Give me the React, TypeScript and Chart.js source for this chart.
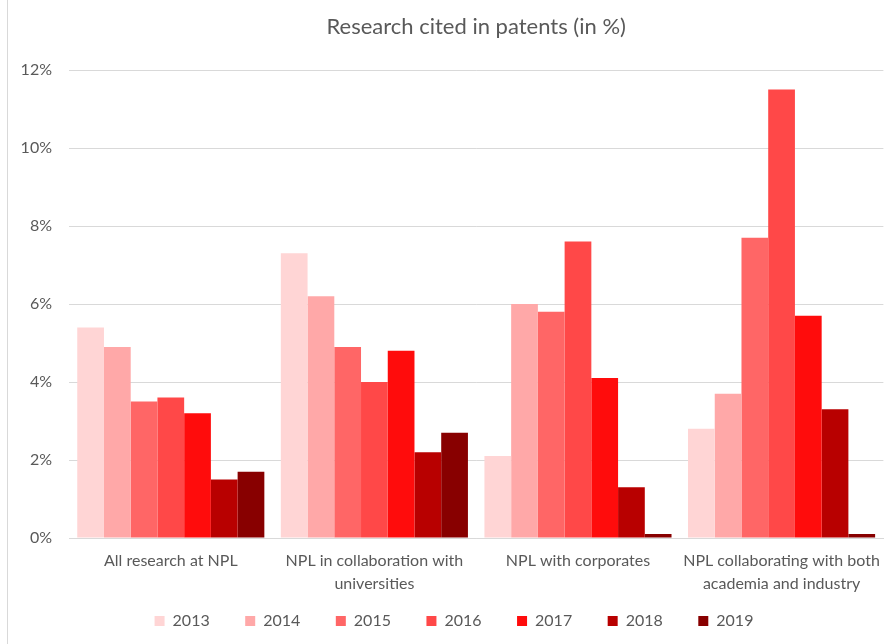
import React, { useEffect, useRef } from "react";
import { Chart, registerables } from "chart.js";

Chart.register(...registerables);

const categories: (string | string[])[] = [
  "All research at NPL",
  ["NPL in collaboration with", "universities"],
  "NPL with corporates",
  ["NPL collaborating with both", "academia and industry"],
];

const years = ["2013", "2014", "2015", "2016", "2017", "2018", "2019"];

const v2013 = [5.4, 7.3, 2.1, 2.8];
const v2014 = [4.9, 6.2, 6.0, 3.7];
const v2015 = [3.5, 4.9, 5.8, 7.7];
const v2016 = [3.6, 4.0, 7.6, 11.5];
const v2017 = [3.2, 4.8, 4.1, 5.7];
const v2018 = [1.5, 2.2, 1.3, 3.3];
const v2019 = [1.7, 2.7, 0.1, 0.1];

const seriesValues = [v2013, v2014, v2015, v2016, v2017, v2018, v2019];
const seriesColors = ["#FFD5D5", "#FFA8A8", "#FF6666", "#FF4848", "#FF0C0C", "#B80000", "#880000"];

const yTicks = [0, 2, 4, 6, 8, 10, 12];

const titleText = "Research cited in patents (in %)";
const TEXT = "#595959";
const GRID = "#D9D9D9";
const FONT = "Lato, 'Open Sans', sans-serif";

// Let the x-axis labels (whose box is shortened to leave room for the legend) draw their second line.
const extendXLabelArea = {
  id: "extendXLabelArea",
  afterLayout(chart: any) {
    const x = chart.scales.x;
    if (x) x.bottom = chart.height;
  },
};

export default function App() {
  const ref = useRef<HTMLCanvasElement | null>(null);

  useEffect(() => {
    if (!ref.current) return;
    const chart = new Chart(ref.current, {
      type: "bar",
      data: {
        labels: categories,
        datasets: years.map((y, i) => ({
          label: y,
          data: seriesValues[i],
          backgroundColor: seriesColors[i],
          borderWidth: 0,
          categoryPercentage: 0.919,
          barPercentage: 1,
        })),
      },
      plugins: [extendXLabelArea],
      options: {
        animation: false,
        responsive: true,
        maintainAspectRatio: false,
        layout: { padding: { left: 18, right: 2, top: 0, bottom: 5 } },
        font: { family: FONT },
        plugins: {
          title: {
            display: true,
            text: titleText,
            fullSize: false,
            color: TEXT,
            font: { family: FONT, size: 22, weight: "normal" },
            padding: { top: 14.2, bottom: 29.4 },
          },
          legend: {
            position: "bottom",
            labels: {
              boxWidth: 10,
              boxHeight: 10,
              padding: 35.5,
              color: TEXT,
              font: { family: FONT, size: 16 },
            },
          },
          tooltip: { enabled: false },
        },
        scales: {
          x: {
            grid: { display: false, drawTicks: false },
            border: { display: true, color: GRID, width: 1 },
            ticks: {
              color: TEXT,
              font: { family: FONT, size: 16, lineHeight: 1.44 },
              padding: 11,
              maxRotation: 0,
              autoSkip: false,
            },
            afterFit: (scale: any) => {
              scale.height = 39.5;
            },
          },
          y: {
            min: yTicks[0],
            max: yTicks[yTicks.length - 1],
            grid: { color: GRID, lineWidth: 1, drawTicks: false },
            border: { display: false },
            ticks: {
              stepSize: 2,
              color: TEXT,
              font: { family: FONT, size: 16 },
              padding: 17,
              callback: (v: any) => `${v}%`,
            },
            afterFit: (scale: any) => {
              scale.width = 51;
            },
          },
        },
      },
    });
    return () => chart.destroy();
  }, []);

  return (
    <div style={{ position: "fixed", left: 0, top: 0, width: 892, height: 644, background: "#fff" }}>
      <div style={{ position: "absolute", left: 7, top: 0, width: 1, height: 644, background: GRID }} />
      <canvas ref={ref} />
    </div>
  );
}
